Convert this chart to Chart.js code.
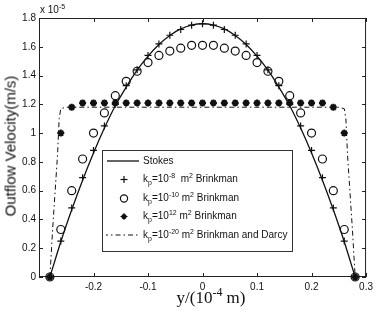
<!DOCTYPE html>
<html><head><meta charset="utf-8">
<script src="https://cdn.jsdelivr.net/npm/chart.js@4"></script>
<style>
body{margin:0;background:#fff;}
#wrap{position:relative;width:377px;height:313px;overflow:hidden;font-family:"Liberation Sans",Arial,sans-serif;color:#111;}
canvas{position:absolute;left:0;top:0;}
.ov{position:absolute;white-space:nowrap;}
sup,sub{font-size:70%;line-height:0;}
#legend{position:absolute;left:102px;top:150px;width:191px;height:102px;border:1px solid #333;background:#fff;box-sizing:border-box;}
.row{position:absolute;left:0;height:18px;width:190px;font-size:10px;}
.row svg{position:absolute;left:3px;top:0;}
.row span.t{position:absolute;left:40px;top:3px;}
</style></head>
<body><div id="wrap">
<canvas id="c" width="377" height="313"></canvas>
<div class="ov" style="left:10px;top:146px;transform:translate(-50%,-50%) rotate(-90deg);font-size:15px;">Outflow Velocity(m/s)</div>
<div class="ov" style="left:211px;top:298px;transform:translate(-50%,-50%);font-family:'Liberation Serif','Times New Roman',serif;font-size:17px;">y/(10<sup>-4</sup> m)</div>
<div class="ov" style="left:40px;top:4px;font-size:10px;">x 10<sup>-5</sup></div>
<div id="legend">
 <div class="row" style="top:1px"><svg width="36" height="18"><line x1="1" y1="9" x2="33" y2="9" stroke="#111" stroke-width="1.3"/></svg><span class="t">Stokes</span></div>
 <div class="row" style="top:19px"><svg width="36" height="18"><line x1="18" y1="6" x2="18" y2="13" stroke="#111" stroke-width="1.2"/><line x1="14.5" y1="9.5" x2="21.5" y2="9.5" stroke="#111" stroke-width="1.2"/></svg><span class="t">k<sub>p</sub>=10<sup>-8</sup>&nbsp; m<sup>2</sup> Brinkman</span></div>
 <div class="row" style="top:37.5px"><svg width="36" height="18"><circle cx="18" cy="9.5" r="3.6" fill="none" stroke="#111" stroke-width="1.2"/></svg><span class="t">k<sub>p</sub>=10<sup>-10</sup> m<sup>2</sup> Brinkman</span></div>
 <div class="row" style="top:56px"><svg width="36" height="18"><circle cx="18" cy="9.5" r="2.6" fill="#111"/><line x1="14.5" y1="9.5" x2="21.5" y2="9.5" stroke="#111" stroke-width="1"/><line x1="18" y1="6" x2="18" y2="13" stroke="#111" stroke-width="1"/></svg><span class="t">k<sub>p</sub>=10<sup>12</sup> m<sup>2</sup> Brinkman</span></div>
 <div class="row" style="top:74.5px"><svg width="36" height="18"><line x1="-3" y1="9" x2="33" y2="9" stroke="#111" stroke-width="1" stroke-dasharray="5,3,1.5,3"/></svg><span class="t">k<sub>p</sub>=10<sup>-20</sup> m<sup>2</sup> Brinkman and Darcy</span></div>
</div>
</div>
<script>
// positions y/(1e-4 m)
const yPos = [-0.28,-0.26,-0.24,-0.22,-0.20,-0.18,-0.16,-0.14,-0.12,-0.10,-0.08,-0.06,-0.04,-0.02,0,0.02,0.04,0.06,0.08,0.10,0.12,0.14,0.16,0.18,0.20,0.22,0.24,0.26,0.28];
// velocities in 1e-5 m/s
const stokes = [0,0.245,0.467,0.673,0.862,1.035,1.19,1.32,1.437,1.535,1.616,1.679,1.724,1.751,1.76,1.751,1.724,1.679,1.616,1.535,1.437,1.32,1.19,1.035,0.862,0.673,0.467,0.245,0];
const kp1e8 = [0,0.25,0.48,0.69,0.88,1.05,1.2,1.33,1.44,1.54,1.62,1.68,1.72,1.75,1.76,1.75,1.72,1.68,1.62,1.54,1.44,1.33,1.2,1.05,0.88,0.69,0.48,0.25,0];
const kp1e10 = [0,0.33,0.6,0.82,1.0,1.14,1.26,1.36,1.43,1.49,1.54,1.57,1.59,1.61,1.61,1.61,1.59,1.57,1.54,1.49,1.43,1.36,1.26,1.14,1.0,0.82,0.6,0.33,0];
const kp1e12 = [0,1.0,1.18,1.21,1.21,1.21,1.21,1.21,1.21,1.21,1.21,1.21,1.21,1.21,1.21,1.21,1.21,1.21,1.21,1.21,1.21,1.21,1.21,1.21,1.21,1.21,1.18,1.0,0];
const darcyPos = [-0.28,-0.275,-0.266,-0.263,-0.26,-0.25,0,0.25,0.26,0.263,0.266,0.275,0.28];
const darcyVal = [0,0.33,0.85,1.1,1.17,1.18,1.18,1.18,1.17,1.1,0.85,0.33,0];
const xTicks = [-0.3,-0.2,-0.1,0,0.1,0.2,0.3];
const yTicks = [0,0.2,0.4,0.6,0.8,1,1.2,1.4,1.6,1.8];

const pts = (xs, vs) => xs.map((x,i)=>({x:x,y:vs[i]}));
const C = '#111';
const boxTicks = {
  id:'boxTicks',
  beforeDatasetsDraw(chart){
    const {ctx, chartArea:{left,right,top,bottom}, scales:{x,y}} = chart;
    ctx.save();
    ctx.strokeStyle='#222'; ctx.lineWidth=1;
    ctx.strokeRect(left+0.5, top+0.5, right-left-1, bottom-top-1);
    const L=4;
    ctx.beginPath();
    x.ticks.forEach(t=>{const p=Math.round(x.getPixelForValue(t.value))+0.5;
      ctx.moveTo(p,bottom); ctx.lineTo(p,bottom-L); ctx.moveTo(p,top); ctx.lineTo(p,top+L);});
    y.ticks.forEach(t=>{const p=Math.round(y.getPixelForValue(t.value))+0.5;
      ctx.moveTo(left,p); ctx.lineTo(left+L,p); ctx.moveTo(right,p); ctx.lineTo(right-L,p);});
    ctx.stroke();
    ctx.restore();
  }
};
const fmt = v => { const r=Math.round(v*10)/10; return (Object.is(r,-0)?0:r).toString(); };
new Chart(document.getElementById('c'), {
  type:'scatter',
  data:{datasets:[
    {label:'Stokes', data:pts(yPos,stokes), showLine:true, borderColor:C, borderWidth:1.3, pointRadius:0, cubicInterpolationMode:'monotone', clip:false},
    {label:'kp=1e-8', data:pts(yPos,kp1e8), showLine:false, pointStyle:'cross', pointRadius:3.5, borderColor:C, borderWidth:1.2, clip:false},
    {label:'kp=1e-10', data:pts(yPos,kp1e10), showLine:false, pointStyle:'circle', pointRadius:4, borderColor:C, backgroundColor:'rgba(0,0,0,0)', borderWidth:1.2, clip:false},
    {label:'kp=1e12', data:pts(yPos,kp1e12), showLine:false, pointStyle:'star', pointRadius:3.5, borderColor:C, borderWidth:2, clip:false},
    {label:'kp=1e-20', data:pts(darcyPos,darcyVal), showLine:true, borderColor:C, borderWidth:1, borderDash:[5,3,1.5,3], pointRadius:0, tension:0, clip:false}
  ]},
  options:{
    responsive:false, animation:false, devicePixelRatio:1,
    layout:{padding:{left:0,right:8,top:18,bottom:0}},
    plugins:{legend:{display:false}, tooltip:{enabled:false}},
    scales:{
      x:{type:'linear', min:-0.3, max:0.3,
        afterBuildTicks:s=>{s.ticks=xTicks.map(v=>({value:v}));},
        afterFit:s=>{s.height=36;},
        grid:{display:false, drawTicks:false}, border:{display:false},
        ticks:{autoSkip:false, maxRotation:0, padding:4, color:C, font:{family:'"Liberation Sans", Arial', size:10},
          callback:v=> Math.abs(v+0.3)<1e-9 ? '' : fmt(v)}},
      y:{type:'linear', min:0, max:1.8,
        afterBuildTicks:s=>{s.ticks=yTicks.map(v=>({value:v}));},
        afterFit:s=>{s.width=39;},
        grid:{display:false, drawTicks:false}, border:{display:false},
        ticks:{autoSkip:false, padding:3, color:C, font:{family:'"Liberation Sans", Arial', size:10},
          callback:v=>fmt(v)}}
    }
  },
  plugins:[boxTicks]
});
</script>
</body></html>
